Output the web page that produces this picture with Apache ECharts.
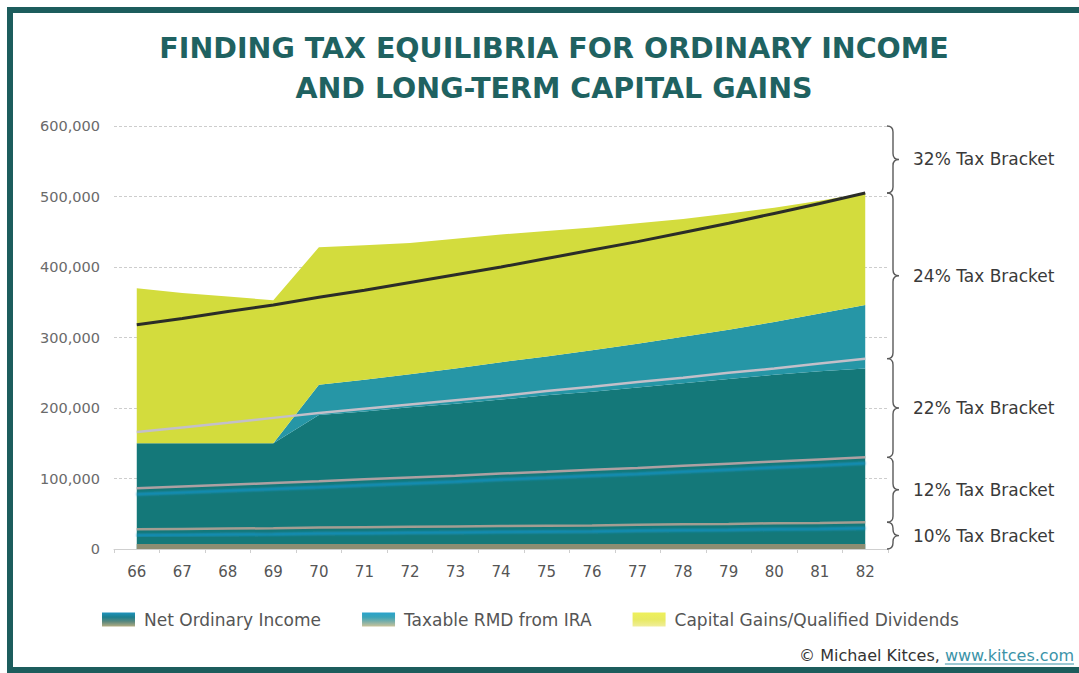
<!DOCTYPE html>
<html>
<head>
<meta charset="utf-8">
<script src="https://cdn.jsdelivr.net/npm/echarts@6/dist/echarts.min.js"></script>
<style>
  html, body { margin: 0; padding: 0; background: #ffffff; }
  #chart { width: 1079px; height: 673px; }
</style>
</head>
<body>
<div id="chart"></div>
<script>
// Ages along the horizontal axis
const ages = ['66', '67', '68', '69', '70', '71', '72', '73', '74', '75', '76', '77', '78', '79', '80', '81', '82'];

// Stacked income components (dollars)
const netOrdinaryIncome = [150000, 150000, 150000, 150000, 190000, 195000, 201000, 206000, 212000, 218000, 223000, 229000, 235000, 241000, 247000, 252000, 256000];
const taxableRmd = [0, 0, 0, 0, 43000, 45000, 47000, 50000, 53000, 55000, 59000, 62000, 66000, 70000, 75000, 82000, 90000];
const capitalGains = [220000, 213000, 208000, 203000, 195000, 191000, 186000, 184000, 181000, 178000, 174000, 171000, 167000, 165000, 162000, 160000, 159000];

// Top of each ordinary-income bracket (dollars of gross income)
const top10 = [28000, 28500, 29000, 29500, 30500, 31000, 31500, 32000, 32500, 33000, 33500, 34500, 35000, 35500, 36500, 37000, 38000];
const top12 = [86000, 88500, 91000, 93500, 96000, 99000, 101500, 104000, 107000, 109500, 112500, 115000, 118000, 121000, 124000, 127000, 130000];
const top22 = [166000, 172500, 179000, 186000, 193000, 199000, 205000, 211000, 217000, 224000, 230000, 237000, 243000, 250000, 256000, 263000, 270000];
const top24 = [318000, 327000, 337000, 346000, 357000, 367000, 378000, 389000, 400000, 412000, 424000, 436000, 449000, 462000, 476000, 490000, 505000];

// Bracket names shown beside the braces, lowest first
const bracketNames = ['10% Tax Bracket', '12% Tax Bracket', '22% Tax Bracket', '24% Tax Bracket', '32% Tax Bracket'];

// Value axis range
const yMax = 600000;
const yStep = 100000;
// Thin band along the base of the income stack
const deductionBand = 7000;

const seriesNames = ['Net Ordinary Income', 'Taxable RMD from IRA', 'Capital Gains/Qualified Dividends'];

const FONT = '"DejaVu Sans", "Noto Sans", sans-serif';
const last = arr => arr[arr.length - 1];

const chart = echarts.init(document.getElementById('chart'), null, { renderer: 'svg' });

const lg = (stops) => new echarts.graphic.LinearGradient(0, 0, 0, 1,
  stops.map((c, i) => ({ offset: i / (stops.length - 1), color: c })));

const bracketLine = (name, data, color, width, glow, extra) => Object.assign({
  name: name,
  type: 'line',
  data: data,
  symbol: 'none',
  z: 5,
  silent: true,
  lineStyle: glow ? {
    color: color, width: width,
    shadowColor: 'rgba(20, 150, 205, 0.9)', shadowBlur: 2, shadowOffsetY: 6
  } : { color: color, width: width }
}, extra || {});

const areaSeries = (name, data, color) => ({
  name: name,
  type: 'line',
  stack: 'income',
  data: data,
  symbol: 'none',
  lineStyle: { width: 0 },
  itemStyle: { color: color },
  areaStyle: { color: color, opacity: 1 },
  z: 2
});

// Bracket braces: each item spans [lower bound, upper bound] at the last age
const bounds = [0, last(top10), last(top12), last(top22), last(top24), yMax];
const braceData = bracketNames.map((n, i) => ({ name: n, value: [ages.length - 1, bounds[i], bounds[i + 1]] }));

function bracePath(x, y1, y2) {
  const ym = (y1 + y2) / 2;
  const w = 6;
  const r = Math.min(6, (y2 - y1) / 4);
  return 'M' + (x - w) + ',' + y1 +
    ' Q' + x + ',' + y1 + ' ' + x + ',' + (y1 + r) +
    ' L' + x + ',' + (ym - r) +
    ' Q' + x + ',' + ym + ' ' + (x + w) + ',' + ym +
    ' Q' + x + ',' + ym + ' ' + x + ',' + (ym + r) +
    ' L' + x + ',' + (y2 - r) +
    ' Q' + x + ',' + y2 + ' ' + (x - w) + ',' + y2;
}

const option = {
  backgroundColor: '#ffffff',
  animation: false,
  title: {
    text: 'FINDING TAX EQUILIBRIA FOR ORDINARY INCOME\nAND LONG-TERM CAPITAL GAINS',
    left: 549,
    top: 23,
    textAlign: 'center',
    textStyle: {
      fontFamily: FONT,
      fontWeight: 'bold',
      fontSize: 28.5,
      lineHeight: 40,
      color: '#1f6261'
    }
  },
  grid: { left: 114, right: 191, top: 126, bottom: 124, containLabel: false },
  legend: {
    left: 97,
    top: 606,
    icon: 'rect',
    itemWidth: 33,
    itemHeight: 14,
    itemGap: 41,
    textStyle: { fontFamily: FONT, fontSize: 17, color: '#555555', padding: [0, 0, 0, 4] },
    data: [
      { name: seriesNames[0], itemStyle: { color: lg(['#1f93bd', '#1c7f8e', '#5f8a7e', '#b3ad82']) } },
      { name: seriesNames[1], itemStyle: { color: lg(['#2aa3cc', '#3aa4b8', '#7fb0a8', '#c9c39a']) } },
      { name: seriesNames[2], itemStyle: { color: lg(['#eef05a', '#e8ea62', '#f0ee9a']) } }
    ]
  },
  xAxis: {
    type: 'category',
    data: ages,
    boundaryGap: true,
    axisLine: { show: true, lineStyle: { color: '#cfcfcf', width: 1 } },
    axisTick: { show: true, alignWithLabel: false, length: 4, lineStyle: { color: '#cfcfcf' } },
    axisLabel: {
      fontFamily: FONT,
      fontSize: 15,
      color: '#555555',
      margin: 15
    },
    splitLine: { show: false }
  },
  yAxis: {
    type: 'value',
    min: 0,
    max: yMax,
    interval: yStep,
    axisLine: { show: false },
    axisTick: { show: false },
    axisLabel: {
      fontFamily: FONT,
      fontSize: 14.5,
      color: '#6a6a6a',
      margin: 14,
      formatter: v => v.toLocaleString('en-US')
    },
    splitLine: { show: true, lineStyle: { color: '#cdcdcd', width: 1, type: [3, 2] } }
  },
  series: [
    areaSeries(seriesNames[0], netOrdinaryIncome, '#147879'),
    areaSeries(seriesNames[1], taxableRmd, '#2696a6'),
    areaSeries(seriesNames[2], capitalGains, '#d3dc3d'),
    bracketLine('10% top', top10, '#a39d92', 2.5, true, {
      markArea: {
        silent: true,
        z: 4,
        itemStyle: { color: '#8c8d72', opacity: 1 },
        data: [[{ xAxis: ages[0], yAxis: 0 }, { xAxis: last(ages), yAxis: deductionBand }]]
      }
    }),
    bracketLine('12% top', top12, '#ada0a2', 2.5, true),
    bracketLine('22% top', top22, '#c3bfc9', 2.5, false),
    bracketLine('24% top', top24, '#2b2d28', 3, false),
    {
      name: 'brackets',
      type: 'custom',
      coordinateSystem: 'cartesian2d',
      clip: false,
      silent: true,
      z: 6,
      encode: { x: 0, y: [1, 2] },
      data: braceData,
      renderItem: function (params, api) {
        const cs = params.coordSys;
        const lo = api.coord([api.value(0), api.value(1)]);
        const hi = api.coord([api.value(0), api.value(2)]);
        const bx = cs.x + cs.width + 5;
        return {
          type: 'group',
          children: [
            {
              type: 'path',
              shape: { pathData: bracePath(bx, hi[1], lo[1]) },
              style: { fill: null, stroke: '#5a5a5a', lineWidth: 1.4 }
            },
            {
              type: 'text',
              style: {
                x: bx + 20,
                y: (hi[1] + lo[1]) / 2,
                text: bracketNames[params.dataIndex],
                fontFamily: FONT,
                fontSize: 17,
                fill: '#3a3a3a',
                verticalAlign: 'middle',
                align: 'left'
              }
            }
          ]
        };
      }
    }
  ]
};

chart.setOption(option);

// Frame and credit line
const credit = '© Michael Kitces, ';
const link = 'www.kitces.com';
const ctx = document.createElement('canvas').getContext('2d');
ctx.font = '16px ' + FONT;
const linkW = ctx.measureText(link).width;
const creditRight = 1074;
const creditY = 655;

chart.setOption({
  graphic: [
    {
      type: 'rect',
      silent: true,
      z: 0,
      shape: { x: 10, y: 10, width: 1100, height: 660 },
      style: { fill: null, stroke: '#1d5d5d', lineWidth: 6 }
    },
    {
      type: 'text',
      silent: true,
      style: {
        x: creditRight - linkW, y: creditY, text: credit,
        fontFamily: FONT, fontSize: 16, fill: '#333333',
        align: 'right', verticalAlign: 'middle'
      }
    },
    {
      type: 'text',
      silent: true,
      style: {
        x: creditRight, y: creditY, text: link,
        fontFamily: FONT, fontSize: 16, fill: '#3b93a8',
        align: 'right', verticalAlign: 'middle'
      }
    },
    {
      type: 'line',
      silent: true,
      shape: { x1: creditRight - linkW, y1: creditY + 9, x2: creditRight, y2: creditY + 9 },
      style: { stroke: '#3b93a8', lineWidth: 1 }
    }
  ]
});
</script>
</body>
</html>
